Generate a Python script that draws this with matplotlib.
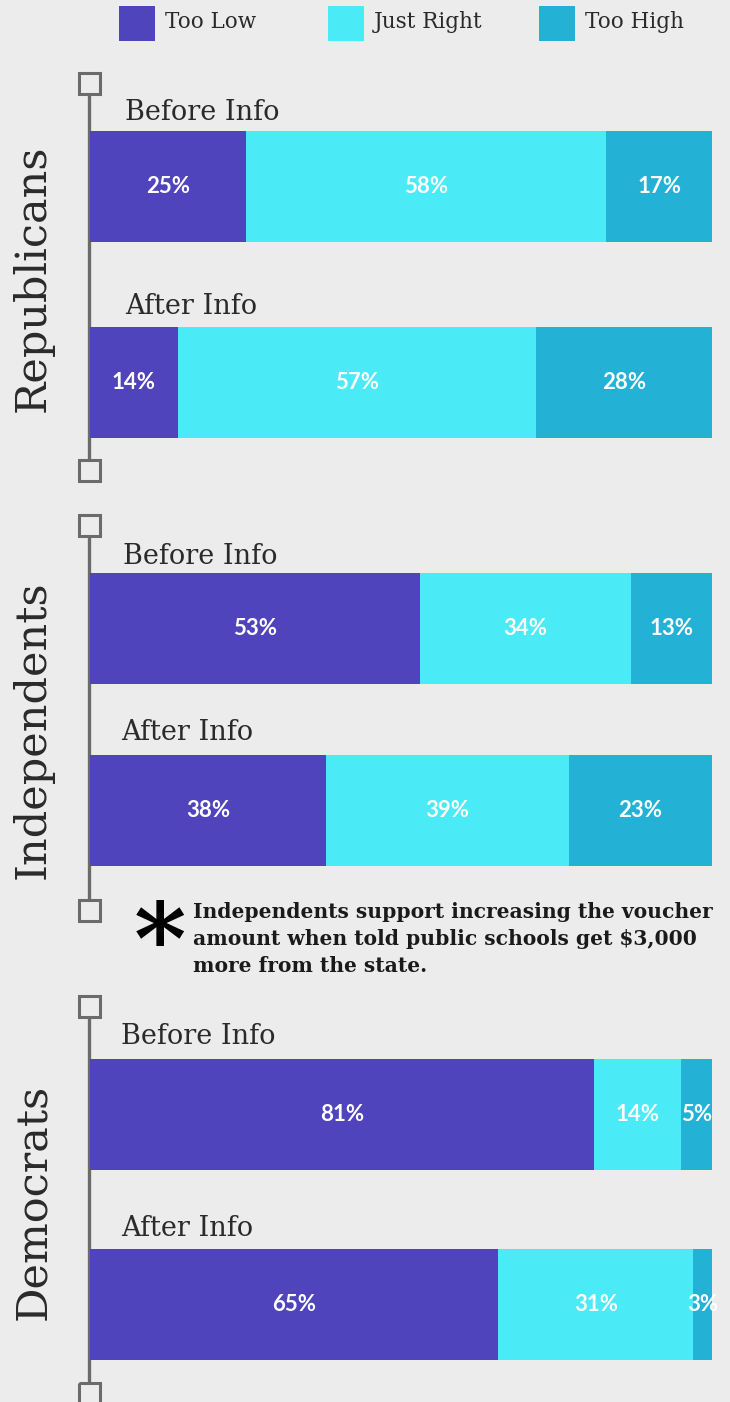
import matplotlib
matplotlib.use("Agg")
import matplotlib.pyplot as plt
from matplotlib.patches import Rectangle

# survey shares (percent) per party, before / after info
parties = ['Republicans', 'Independents', 'Democrats']
stages = ['Before Info', 'After Info']
too_low = [25, 14, 53, 38, 81, 65]
just_right = [58, 57, 34, 39, 14, 31]
too_high = [17, 28, 13, 23, 5, 3]
series_names = ['Too Low', 'Just Right', 'Too High']
note = ("Independents support increasing the voucher\n"
        "amount when told public schools get $3,000\n"
        "more from the state.")

BG = '#ececec'
COLORS = ['#5044bd', '#4aeaf6', '#23b2d6']
GRAY = '#6b6b6b'
TXT = '#2a2a2a'
W, H = 730, 1402

# layout in pixels (top-down)
bar_centers = [186.5, 382.5, 628.5, 810.5, 1114.5, 1304.5]
bar_height = 111
stage_label_y = [113, 306, 556, 733, 1037, 1229]
stage_label_x = [125, 125, 123, 121, 121, 121]
bracket_ranges = [(83, 470), (525, 910), (1006, 1393)]
group_label_y = [278, 730, 1202]

fig = plt.figure(figsize=(W / 100, H / 100), dpi=100)
fig.set_facecolor(BG)

# decoration axes in pixel coordinates
deco = fig.add_axes([0, 0, 1, 1])
deco.set_xlim(0, W)
deco.set_ylim(H, 0)
deco.axis('off')
deco.set_facecolor(BG)

# brackets with squares
for (top, bottom) in bracket_ranges:
    deco.plot([89, 89], [top + 11, bottom - 11], color=GRAY, lw=2.4, zorder=1,
              solid_capstyle='butt')
    for yc in (top, bottom):
        deco.add_patch(Rectangle((78.5, yc - 10.5), 21, 21, facecolor='none',
                                 edgecolor=GRAY, lw=2.2, zorder=2))

for name, yc in zip(parties, group_label_y):
    deco.text(33, yc, name, rotation=90, ha='center', va='center',
              fontsize=31, family='DejaVu Serif', color=TXT)

for i in range(6):
    deco.text(stage_label_x[i], stage_label_y[i], stages[i % 2], ha='left',
              va='center', fontsize=19.5, family='DejaVu Serif', color=TXT)

# legend
legend_x = [119, 328, 539]
for name, color, lx in zip(series_names, COLORS, legend_x):
    deco.add_patch(Rectangle((lx, 6), 36, 35, facecolor=color, edgecolor='none'))
    deco.text(lx + 46, 22, name, ha='left', va='center', fontsize=15.5,
              family='DejaVu Serif', color=TXT)

# footnote
deco.text(160, 947, '*', ha='center', va='center', fontsize=72,
          family='DejaVu Serif', fontweight='bold', color='black')
deco.text(193, 939, note, ha='left', va='center', fontsize=14.6,
          family='DejaVu Serif', fontweight='bold', color='#1a1a1a',
          linespacing=1.45)

# bars: x in percent of row total, y in pixels
ax = fig.add_axes([90 / W, 0, 622 / W, 1])
ax.set_xlim(0, 100)
ax.set_ylim(H, 0)
ax.axis('off')
ax.patch.set_alpha(0)

totals = [a + b + c for a, b, c in zip(too_low, just_right, too_high)]
left = [0.0] * 6
for vals, color in zip([too_low, just_right, too_high], COLORS):
    widths = [v / t * 100 for v, t in zip(vals, totals)]
    ax.barh(bar_centers, widths, left=left, height=bar_height, color=color,
            edgecolor='none')
    for i, v in enumerate(vals):
        ax.text(left[i] + widths[i] / 2, bar_centers[i], f'{v}%', ha='center',
                va='center', color='white', fontsize=16, family='Lato',
                fontweight='bold')
    left = [l + w for l, w in zip(left, widths)]

fig.savefig('out.png', dpi=100, facecolor=BG)
